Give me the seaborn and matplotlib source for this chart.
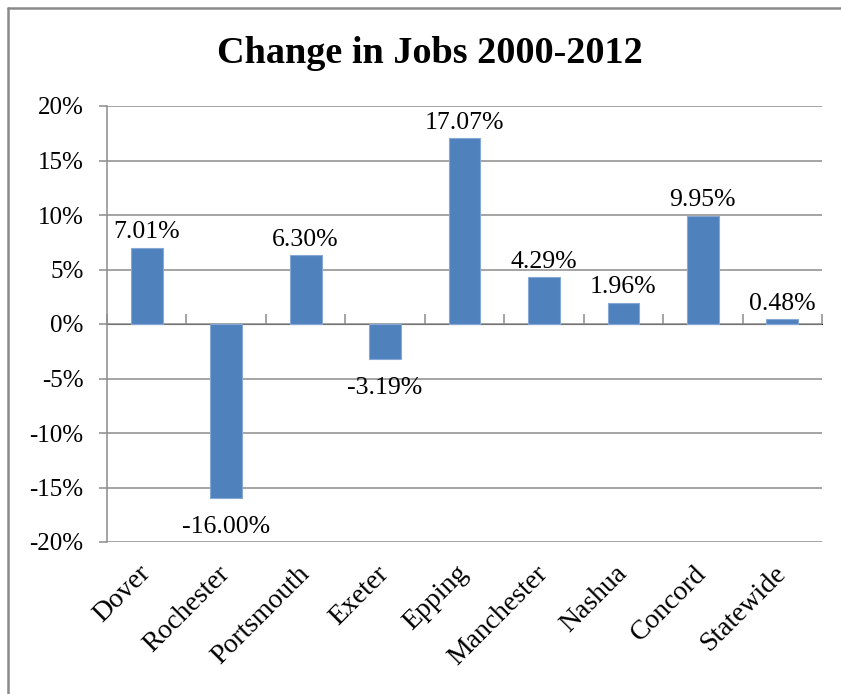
import matplotlib
matplotlib.use("Agg")
import matplotlib.pyplot as plt
from matplotlib.lines import Line2D
import seaborn as sns
import pandas as pd

# Percent change in jobs, 2000-2012
cities = ["Dover", "Rochester", "Portsmouth", "Exeter", "Epping",
          "Manchester", "Nashua", "Concord", "Statewide"]
changes = [7.01, -16.00, 6.30, -3.19, 17.07, 4.29, 1.96, 9.95, 0.48]
y_ticks = [-20, -15, -10, -5, 0, 5, 10, 15, 20]
y_tick_labels = [f"{t}%" for t in y_ticks]
title = "Change in Jobs 2000-2012"

df = pd.DataFrame({"city": cities, "change": changes})

sns.set_style("white")
plt.rcParams["font.family"] = ["Liberation Serif", "DejaVu Serif"]
plt.rcParams["text.color"] = "black"
plt.rcParams["xtick.labelcolor"] = "black"
plt.rcParams["ytick.labelcolor"] = "black"

BAR = "#4F81BD"
GRID = "#8C8C8C"

fig = plt.figure(figsize=(8.41, 6.94), dpi=100)
ax = fig.add_axes([107 / 841, 1 - 542 / 694, (822 - 107) / 841, (542 - 106) / 694])

sns.barplot(data=df, x="city", y="change", color=BAR, width=0.4,
            edgecolor="#86a8d6", linewidth=0.8, saturation=1, ax=ax, zorder=3)

ax.set_xlim(-0.5, len(cities) - 0.5)
ax.set_ylim(-20, 20)
ax.set_yticks(y_ticks)
ax.set_yticklabels(y_tick_labels, fontsize=18, color="black")
ax.set_xlabel("")
ax.set_ylabel("")

# horizontal gridlines
ax.yaxis.grid(True, color=GRID, linewidth=1.1, zorder=0)
ax.xaxis.grid(False)
for side in ("top", "right", "bottom"):
    ax.spines[side].set_visible(False)
ax.spines["left"].set_color(GRID)
ax.spines["left"].set_linewidth(1.1)
ax.tick_params(axis="y", direction="out", length=6, width=1.1, color=GRID,
               left=True, pad=11)

# category labels below the plot area
ax.tick_params(axis="x", length=0, pad=20)
ax.set_xticks(range(len(cities)))
ax.set_xticklabels(cities, rotation=45, ha="right", va="center",
                   rotation_mode="anchor", fontsize=20, color="black")

# zero axis with tick marks between categories
zero_ax = ax.secondary_xaxis(0.5)
zero_ax.spines["bottom"].set_color(GRID)
zero_ax.spines["bottom"].set_linewidth(1.1)
zero_ax.set_xticks([i - 0.5 for i in range(len(cities) + 1)])
zero_ax.set_xticklabels([])
zero_ax.tick_params(axis="x", direction="out", length=7, width=1.1, color=GRID)

# value labels
for i, v in enumerate(changes):
    if v >= 0:
        ax.annotate(f"{v:.2f}%", (i, v), xytext=(0, 3), textcoords="offset points",
                    ha="center", va="bottom", fontsize=18.5, zorder=4)
    else:
        ax.annotate(f"{v:.2f}%", (i, v), xytext=(0, -13), textcoords="offset points",
                    ha="center", va="top", fontsize=18.5, zorder=4)

fig.text(430 / 841, 1 - 63 / 694, title, ha="center", va="baseline",
         fontsize=27.5, fontweight="bold")

# chart frame
fig.add_artist(Line2D([7.5 / 841, 7.5 / 841], [0, 1 - 8 / 694],
                      transform=fig.transFigure, color="#8A8A8A", linewidth=1.8))
fig.add_artist(Line2D([7.5 / 841, 1], [1 - 8 / 694, 1 - 8 / 694],
                      transform=fig.transFigure, color="#8A8A8A", linewidth=1.8))

fig.savefig("out.png", dpi=100)
